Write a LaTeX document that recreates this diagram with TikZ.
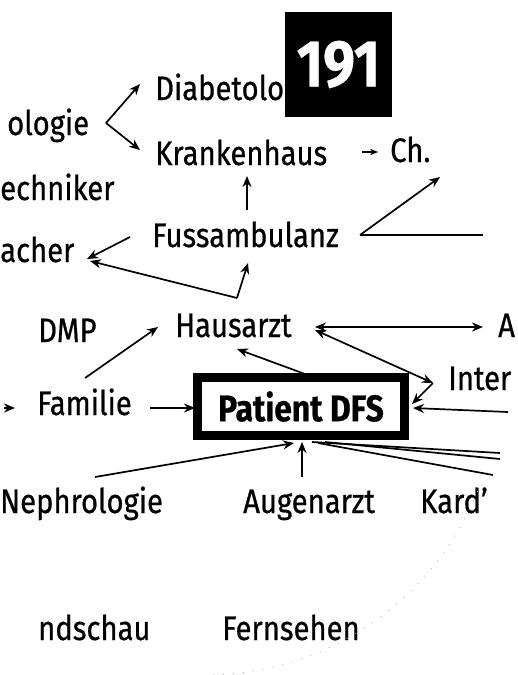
\documentclass[tikz,border=0pt]{standalone}
\usepackage{fontspec}
\setmainfont[FakeStretch=0.86,FakeBold=0.6]{Fira Sans}
\usetikzlibrary{arrows.meta}
\begin{document}
\begin{tikzpicture}[x=1pt,y=-1pt,
  lbl/.style={anchor=base west, inner sep=0pt, font=\fontsize{34}{34}\selectfont},
  tipa/.tip={Stealth[length=11pt,width=9pt]},
  con/.style={line width=1.7pt, -tipa},
  ln/.style={line width=1.7pt},
  dcon/.style={line width=1.7pt, tipa-tipa}]
\useasboundingbox (0,0) rectangle (517,675);
\clip (0,0) rectangle (517,675);

% labels
\node[lbl] (diab) at (155,100) {Diabetolo};
\node[lbl] (olog) at (7,135) {ologie};
\node[lbl] (kran) at (155,165) {Krankenhaus};
\node[lbl] (ch) at (390,162) {Ch.};
\node[lbl] (tech) at (0,200) {echniker};
\node[lbl] (fuss) at (152,247) {Fussambulanz};
\node[lbl] (mach) at (0,262) {acher};
\node[lbl] (dmp) at (38,342) {DMP};
\node[lbl] (haus) at (175,337) {Hausarzt};
\node[lbl] (aa) at (498,337) {A};
\node[lbl] (inter) at (448,390) {Inter};
\node[lbl] (fam) at (37,415) {Familie};
\node[lbl] (neph) at (0,513) {Nephrologie};
\node[lbl] (auge) at (243,513) {Augenarzt};
\node[lbl] (kard) at (420,513) {Kard'};
\node[lbl] (rund) at (38,640) {ndschau};
\node[lbl] (fern) at (222,640) {Fernsehen};

% page number box
\node (pg) [fill=black, text=white, minimum width=107pt, minimum height=105pt, inner sep=0pt,
  font=\fontsize{66}{66}\selectfont\bfseries] at (338.5,64.5) {191};

% patient box
\node (pat) [draw, line width=9pt, minimum width=207pt, minimum height=58pt, inner sep=0pt,
  font=\fontsize{37}{37}\selectfont\bfseries] at (301,406.5) {Patient DFS};

% coordinates
\coordinate (v1) at (106,123);
\coordinate (d1) at (140,84);
\coordinate (k1) at (140,150);
\coordinate (kr) at (362,152);
\coordinate (chl) at (378,152);
\coordinate (fu) at (247,210);
\coordinate (kb) at (247,176);
\coordinate (v2) at (360,235);
\coordinate (cht) at (440,177);
\coordinate (fr) at (483,235);
\coordinate (fl) at (130,237);
\coordinate (ma) at (87,259);
\coordinate (v3) at (237,298);
\coordinate (ma2) at (90,261);
\coordinate (fb) at (248,263);
\coordinate (fam1) at (85,378);
\coordinate (haus1) at (158,327);
\coordinate (haus2) at (315,327);
\coordinate (aa1) at (483,327);
\coordinate (haus3) at (315,330);
\coordinate (v4) at (433,383);
\coordinate (patr) at (412,404);
\coordinate (rr) at (508,412);
\coordinate (patr2) at (413,408);
\coordinate (famr) at (150,408);
\coordinate (patl) at (195,408);
\coordinate (frag1) at (4,408);
\coordinate (frag2) at (15,408);
\coordinate (patt) at (305,374);
\coordinate (haus4) at (237,349);
\coordinate (neph1) at (95,477);
\coordinate (patb1) at (294,443);
\coordinate (auge1) at (302,477);
\coordinate (patb2) at (302,442);
\coordinate (patb3) at (312,442);
\coordinate (patb4) at (325,442);
\coordinate (patb5) at (318,443);
\coordinate (r1) at (500,453);
\coordinate (r2) at (500,459);
\coordinate (r3) at (493,475);

% connectors
\draw[con] (v1) -- (d1);
\draw[con] (v1) -- (k1);
\draw[line width=1.5pt, -{Stealth[length=8pt,width=6.5pt]}] (kr) -- (chl);
\draw[con] (fu) -- (kb);
\draw[con] (v2) -- (cht);
\draw[ln] (v2) -- (fr);
\draw[con] (fl) -- (ma);
\draw[con] (v3) -- (ma2);
\draw[con] (v3) -- (fb);
\draw[con] (fam1) -- (haus1);
\draw[dcon] (haus2) -- (aa1);
\draw[dcon] (haus3) -- (v4);
\draw[con] (v4) -- (patr);
\draw[con] (rr) -- (patr2);
\draw[con] (famr) -- (patl);
\draw[con] (frag1) -- (frag2);
\draw[con] (patt) -- (haus4);
\draw[con] (neph1) -- (patb1);
\draw[con] (auge1) -- (patb2);
\draw[ln] (patb3) -- (r1);
\draw[ln] (patb4) -- (r2);
\draw[ln] (patb5) -- (r3);

% faint scan edge
\draw[gray!60, line width=0.8pt, dash pattern=on 1pt off 9pt]
  (205,381) ++(-22:294pt) arc[start angle=-22, end angle=-89, radius=294pt];
\end{tikzpicture}
\end{document}
